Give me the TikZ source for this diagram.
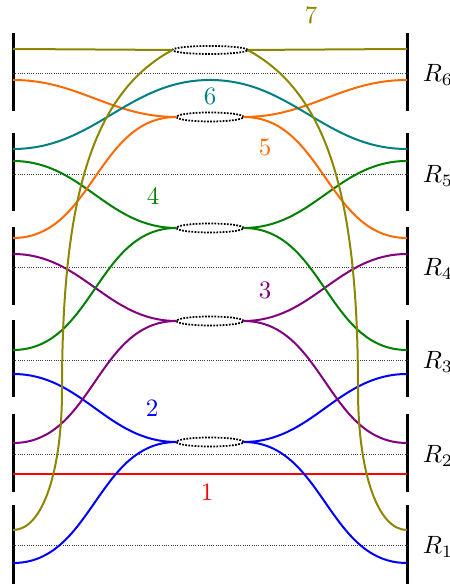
\documentclass[tikz,border=0pt]{standalone}
\usepackage{xcolor}
\usepackage{tikz}
\usetikzlibrary{shapes.geometric}
\definecolor{strandorange}{RGB}{255,106,0}

\begin{document}
\begin{tikzpicture}[
  x=0.4pt, y=0.4pt,
  bar/.style={line width=1.2pt},
  sep/.style={line width=0.4pt, draw=black!75, dash pattern=on 0.4pt off 0.5pt},
  strand/.style={line width=0.8pt},
  junc/.style={ellipse, draw, line width=0.7pt, dash pattern=on 0.7pt off 0.55pt, minimum width=26.8pt, minimum height=3.6pt, inner sep=0pt, outer sep=0pt}
]
\useasboundingbox (0,0) rectangle (449,584);
\foreach \i/\m/\b/\t in {1/38/0/79, 2/129/92/170, 3/223/187/264, 4/316/279/357, 5/409/373/451, 6/510/473/551} {
  \draw[bar] (13,\b) -- (13,\t);
  \draw[bar] (407,\b) -- (407,\t);
  \draw[sep] (13,\m) -- (407,\m);
  \node[anchor=base west] (R\i) at (414,\m-8) {$R_{\i}$};
}
\node[junc, minimum width=30pt, minimum height=3.2pt] (j7) at (210,534) {};
\node[junc] (j5) at (210,467) {};
\node[junc] (j4) at (210,356) {};
\node[junc] (j3) at (210,263) {};
\node[junc] (j2) at (210,142) {};
\coordinate (l1) at (13,110);  \coordinate (r1) at (407,110);
\coordinate (l2a) at (13,21);  \coordinate (l2b) at (13,210);
\coordinate (r2a) at (407,21); \coordinate (r2b) at (407,210);
\coordinate (l3a) at (13,141); \coordinate (l3b) at (13,330);
\coordinate (r3a) at (407,141); \coordinate (r3b) at (407,330);
\coordinate (l4a) at (13,234); \coordinate (l4b) at (13,423);
\coordinate (r4a) at (407,234); \coordinate (r4b) at (407,423);
\coordinate (l5a) at (13,346); \coordinate (l5b) at (13,504);
\coordinate (r5a) at (407,346); \coordinate (r5b) at (407,504);
\coordinate (l6) at (13,435);  \coordinate (p6) at (210,504); \coordinate (r6) at (407,435);
\coordinate (l7a) at (13,535); \coordinate (l7b) at (13,54);
\coordinate (r7a) at (407,535); \coordinate (r7b) at (407,54);
\coordinate (m7l) at (62,194); \coordinate (m7r) at (358,194);
\draw[strand, red] (l1) -- (r1);
\foreach \s/\c in {2/blue, 3/violet, 4/green!50!black, 5/strandorange} {
  \draw[strand, \c] (l\s a) to[out=0, in=180] (j\s.west);
  \draw[strand, \c] (l\s b) to[out=0, in=180] (j\s.west);
  \draw[strand, \c] (j\s.east) to[out=0, in=180] (r\s a);
  \draw[strand, \c] (j\s.east) to[out=0, in=180] (r\s b);
}
\draw[strand, teal] (l6) to[out=0, in=180] (p6) to[out=0, in=180] (r6);
\draw[strand, olive] (l7a) -- (j7.west);
\draw[strand, olive] (j7.east) -- (r7a);
\draw[strand, olive] (j7.west) .. controls (90,490) and (62,380) .. (m7l) .. controls (62,114) and (43,54) .. (l7b);
\draw[strand, olive] (j7.east) .. controls (330,490) and (358,380) .. (m7r) .. controls (358,114) and (377,54) .. (r7b);
\node[text=red] (n1) at (207,92) {1};
\node[text=blue] (n2) at (152,176) {2};
\node[text=violet] (n3) at (265,294) {3};
\node[text=green!50!black] (n4) at (153,388) {4};
\node[text=strandorange] (n5) at (265,437) {5};
\node[text=teal] (n6) at (210,488) {6};
\node[text=olive] (n7) at (311,569) {7};
\end{tikzpicture}
\end{document}
